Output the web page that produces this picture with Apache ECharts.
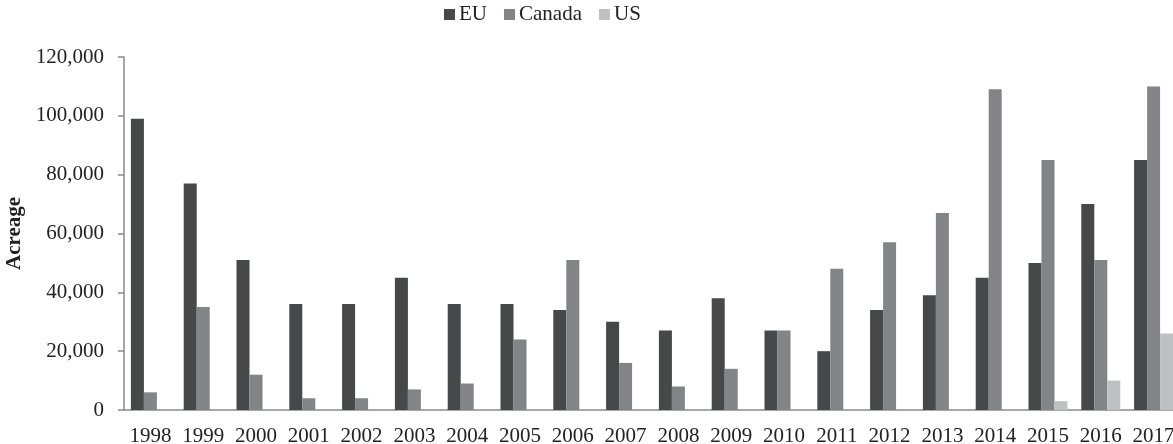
<!DOCTYPE html>
<html>
<head>
<meta charset="utf-8">
<script src="https://cdn.jsdelivr.net/npm/echarts@6/dist/echarts.min.js"></script>
<style>
  html, body { margin: 0; padding: 0; background: #fff; }
  #chart { width: 1173px; height: 444px; }
</style>
</head>
<body>
<div id="chart"></div>
<script>
// acreage by year
const years = ["1998", "1999", "2000", "2001", "2002", "2003", "2004", "2005", "2006", "2007",
  "2008", "2009", "2010", "2011", "2012", "2013", "2014", "2015", "2016", "2017"];
const euValues = [99000, 77000, 51000, 36000, 36000, 45000, 36000, 36000, 34000, 30000,
  27000, 38000, 27000, 20000, 34000, 39000, 45000, 50000, 70000, 85000];
const canadaValues = [6000, 35000, 12000, 4000, 4000, 7000, 9000, 24000, 51000, 16000,
  8000, 14000, 27000, 48000, 57000, 67000, 109000, 85000, 51000, 110000];
const usValues = [0, 0, 0, 0, 0, 0, 0, 0, 0, 0,
  0, 0, 0, 0, 0, 0, 0, 3000, 10000, 26000];

const font = "Liberation Serif";
const axisGray = "#8a8a8a";

const chart = echarts.init(document.getElementById("chart"));

function barSeries(name, values, color) {
  return {
    name: name,
    type: "bar",
    data: values,
    barWidth: 13,
    barGap: "0%",
    itemStyle: { color: color },
    emphasis: { disabled: true },
  };
}

chart.setOption({
  animation: false,
  textStyle: { fontFamily: font },
  legend: {
    left: 444,
    top: 4,
    padding: 0,
    itemWidth: 11,
    itemHeight: 11,
    itemGap: 17,
    itemStyle: { borderWidth: 0 },
    icon: "rect",
    textStyle: { fontFamily: font, fontSize: 21, color: "#222", padding: [0, 0, 0, -1] },
    data: ["EU", "Canada", "US"],
  },
  grid: {
    left: 124,
    right: -7,
    top: 57,
    bottom: 34,
    containLabel: false,
    outerBoundsMode: "none",
  },
  xAxis: {
    type: "category",
    data: years,
    axisLine: { lineStyle: { color: axisGray, width: 1.5 } },
    axisTick: { length: 6, lineStyle: { color: axisGray, width: 1.5 } },
    axisLabel: { fontFamily: font, fontSize: 21, color: "#222", margin: 16, interval: 0 },
  },
  yAxis: {
    type: "value",
    min: 0,
    max: 120000,
    interval: 20000,
    name: "Acreage",
    nameLocation: "middle",
    nameGap: 92,
    nameRotate: 90,
    nameTextStyle: { fontFamily: font, fontSize: 21, fontWeight: "bold", color: "#222" },
    axisLine: { show: true, lineStyle: { color: axisGray, width: 1.5 } },
    axisTick: { show: true, length: 6, lineStyle: { color: axisGray, width: 1.5 } },
    splitLine: { show: false },
    axisLabel: {
      fontFamily: font,
      fontSize: 21,
      color: "#222",
      margin: 20,
      formatter: (v) => v.toLocaleString("en-US"),
    },
  },
  series: [
    barSeries("EU", euValues, "#47484a"),
    barSeries("Canada", canadaValues, "#838487"),
    barSeries("US", usValues, "#bfc0c2"),
  ],
});
</script>
</body>
</html>
